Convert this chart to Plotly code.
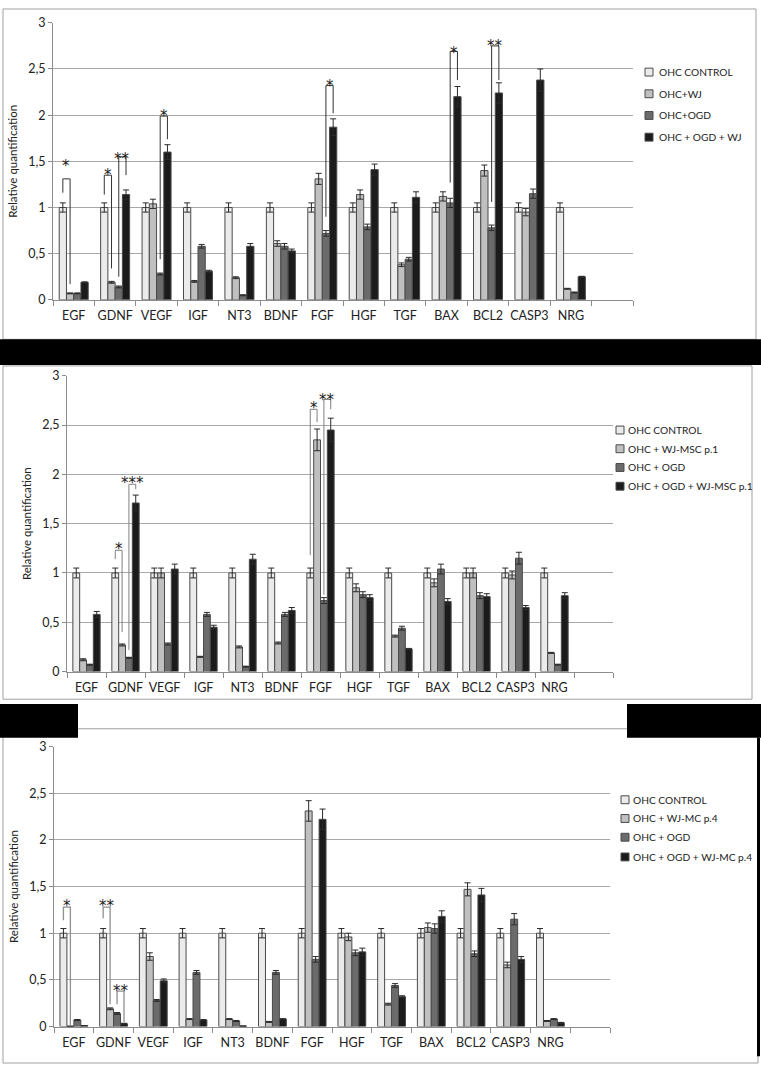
import plotly.graph_objects as go

W, H = 761, 1072

categories = ["EGF", "GDNF", "VEGF", "IGF", "NT3", "BDNF", "FGF", "HGF", "TGF", "BAX", "BCL2", "CASP3", "NRG"]
ytick_vals = [0, 0.5, 1, 1.5, 2, 2.5, 3]
ytick_text = ["0", "0,5", "1", "1,5", "2", "2,5", "3"]

# ---- Panel A ----
a_names = ["OHC CONTROL", "OHC+WJ", "OHC+OGD", "OHC + OGD + WJ"]
a_ctrl = [1.0] * 13
a_wj = [0.07, 0.19, 1.04, 0.20, 0.24, 0.61, 1.31, 1.14, 0.38, 1.12, 1.40, 0.95, 0.12]
a_ogd = [0.07, 0.14, 0.28, 0.58, 0.05, 0.58, 0.72, 0.79, 0.44, 1.05, 0.78, 1.15, 0.08]
a_ogdwj = [0.19, 1.14, 1.60, 0.31, 0.58, 0.53, 1.87, 1.41, 1.11, 2.20, 2.24, 2.38, 0.25]
a_ctrl_err = [0.05] * 13
a_wj_err = [0.005, 0.01, 0.05, 0.01, 0.01, 0.03, 0.06, 0.05, 0.02, 0.05, 0.06, 0.04, 0.005]
a_ogd_err = [0.005, 0.01, 0.01, 0.02, 0.005, 0.03, 0.03, 0.03, 0.02, 0.05, 0.03, 0.05, 0.005]
a_ogdwj_err = [0.005, 0.05, 0.08, 0.01, 0.03, 0.02, 0.09, 0.06, 0.06, 0.11, 0.11, 0.12, 0.005]
# brackets: (category, series a, series b, top, leg a bottom, leg b bottom, label, label y)
a_brackets = [
    (0, 0, 1, 1.31, 1.16, 0.17, "*", 1.49),
    (1, 0, 1, 1.35, 1.14, 0.34, "*", 1.39),
    (1, 2, 3, 1.55, 0.25, 1.35, "**", 1.57),
    (2, 2, 3, 1.99, 0.44, 1.74, "*", 2.03),
    (6, 2, 3, 2.32, 0.90, 2.02, "*", 2.36),
    (9, 2, 3, 2.69, 1.27, 2.38, "*", 2.72),
    (10, 2, 3, 2.75, 1.06, 2.38, "**", 2.79),
]

# ---- Panel B ----
b_names = ["OHC CONTROL", "OHC + WJ-MSC p.1", "OHC + OGD", "OHC + OGD + WJ-MSC p.1"]
b_ctrl = [1.0] * 13
b_wj = [0.12, 0.27, 1.00, 0.15, 0.25, 0.29, 2.35, 0.85, 0.36, 0.90, 1.00, 0.98, 0.19]
b_ogd = [0.07, 0.14, 0.28, 0.58, 0.05, 0.58, 0.72, 0.78, 0.44, 1.04, 0.77, 1.15, 0.07]
b_ogdwj = [0.58, 1.71, 1.04, 0.45, 1.14, 0.62, 2.45, 0.75, 0.23, 0.71, 0.76, 0.65, 0.77]
b_ctrl_err = [0.05] * 13
b_wj_err = [0.01, 0.01, 0.05, 0.005, 0.01, 0.01, 0.11, 0.04, 0.01, 0.04, 0.05, 0.04, 0.005]
b_ogd_err = [0.005, 0.005, 0.01, 0.02, 0.005, 0.02, 0.03, 0.03, 0.02, 0.05, 0.03, 0.06, 0.005]
b_ogdwj_err = [0.03, 0.08, 0.05, 0.02, 0.05, 0.03, 0.12, 0.03, 0.005, 0.03, 0.03, 0.02, 0.03]
b_brackets = [
    (1, 0, 1, 1.23, 1.14, 0.40, "*", 1.28),
    (1, 2, 3, 1.90, 0.22, 1.85, "***", 1.95),
    (6, 0, 1, 2.66, 1.18, 2.53, "*", 2.71),
    (6, 2, 3, 2.76, 0.78, 2.66, "**", 2.80),
]

# ---- Panel C ----
c_names = ["OHC CONTROL", "OHC + WJ-MC p.4", "OHC + OGD", "OHC + OGD + WJ-MC p.4"]
c_ctrl = [1.0] * 13
c_wj = [0.003, 0.19, 0.75, 0.08, 0.08, 0.05, 2.31, 0.96, 0.24, 1.06, 1.47, 0.66, 0.06]
c_ogd = [0.07, 0.14, 0.28, 0.58, 0.06, 0.58, 0.72, 0.79, 0.44, 1.05, 0.78, 1.15, 0.08]
c_ogdwj = [0.01, 0.03, 0.49, 0.07, 0.005, 0.08, 2.22, 0.80, 0.32, 1.18, 1.41, 0.72, 0.04]
c_ctrl_err = [0.05] * 13
c_wj_err = [0.0, 0.01, 0.04, 0.005, 0.005, 0.005, 0.11, 0.04, 0.01, 0.05, 0.07, 0.03, 0.005]
c_ogd_err = [0.005, 0.01, 0.01, 0.02, 0.005, 0.02, 0.03, 0.03, 0.02, 0.05, 0.03, 0.06, 0.005]
c_ogdwj_err = [0.0, 0.005, 0.02, 0.005, 0.0, 0.005, 0.11, 0.04, 0.01, 0.06, 0.07, 0.03, 0.005]
c_brackets = [
    (0, 0, 1, 1.28, 1.14, 0.01, "*", 1.33),
    (1, 0, 1, 1.28, 1.16, 0.24, "**", 1.33),
    (1, 2, 3, 0.38, 0.24, 0.05, "**", 0.42),
]

colors = ["#ebebeb", "#c0c0c0", "#6b6b6b", "#1b1b1b"]
outline = "#4a4a4a"
FONT = "Lato"
BARGAP = 0.3
NSER = 4

def X(px):
    return px / W

def Y(py):
    return 1 - py / H

panels = [
    dict(ax="", names=a_names, vals=[a_ctrl, a_wj, a_ogd, a_ogdwj],
         errs=[a_ctrl_err, a_wj_err, a_ogd_err, a_ogdwj_err], brackets=a_brackets,
         xpx=(53, 633), ypx=(296, 15), leg=(645, 657, [65, 87, 109, 131]), brcol="#333333", brw=1),
    dict(ax="2", names=b_names, vals=[b_ctrl, b_wj, b_ogd, b_ogdwj],
         errs=[b_ctrl_err, b_wj_err, b_ogd_err, b_ogdwj_err], brackets=b_brackets,
         xpx=(67, 613), ypx=(673, 373), leg=(616, 626, [428, 447, 466, 485]), brcol="#808080", brw=1),
    dict(ax="3", names=c_names, vals=[c_ctrl, c_wj, c_ogd, c_ogdwj],
         errs=[c_ctrl_err, c_wj_err, c_ogd_err, c_ogdwj_err], brackets=c_brackets,
         xpx=(54, 610), ypx=(1033, 749), leg=(621, 631, [803, 822, 841, 861]), brcol="#909090", brw=1.3),
]

fig = go.Figure()
shapes = []
annotations = []
xpos = list(range(len(categories)))
bw = (1 - BARGAP) / NSER

for p in panels:
    ax = p["ax"]
    for k in range(NSER):
        fig.add_trace(go.Bar(
            x=xpos, y=p["vals"][k], name=p["names"][k],
            xaxis="x" + ax, yaxis="y" + ax, showlegend=False,
            marker=dict(color=colors[k], line=dict(color=outline, width=1)),
            error_y=dict(type="data", array=p["errs"][k], visible=True,
                         color="#2a2a2a", thickness=1, width=3),
        ))
    # significance brackets
    for (ci, sa, sb, top, ba, bb, lab, ly) in p["brackets"]:
        xa = ci + (sa - (NSER - 1) / 2) * bw
        xb = ci + (sb - (NSER - 1) / 2) * bw
        shapes.append(dict(type="path", xref="x" + ax, yref="y" + ax,
                           path=f"M {xa},{ba} L {xa},{top} L {xb},{top} L {xb},{bb}",
                           line=dict(color=p["brcol"], width=p["brw"])))
        annotations.append(dict(xref="x" + ax, yref="y" + ax, x=(xa + xb) / 2, y=ly,
                                text=lab, showarrow=False, yanchor="middle", yshift=-4,
                                font=dict(family="DejaVu Sans", size=15, color="#1a1a1a")))
    # legend (drawn)
    sx, tx, ys = p["leg"]
    for k in range(NSER):
        yy = ys[k]
        shapes.append(dict(type="rect", xref="paper", yref="paper",
                           x0=X(sx), x1=X(sx + 8), y0=Y(yy + 4), y1=Y(yy - 4),
                           fillcolor=colors[k], line=dict(color=outline, width=1)))
        annotations.append(dict(xref="paper", yref="paper", x=X(tx), y=Y(yy),
                                xanchor="left", yanchor="middle", showarrow=False,
                                text=p["names"][k],
                                font=dict(family=FONT, size=10.2, color="#222222")))

    xd = [X(p["xpx"][0]), X(p["xpx"][1])]
    yd = [Y(p["ypx"][0]), Y(p["ypx"][1])]
    fig.update_layout(**{
        "xaxis" + ax: dict(domain=xd, anchor="y" + ax, range=[-0.5, 13.5],
                           tickmode="array", tickvals=xpos, ticktext=categories,
                           ticks="", showgrid=False, zeroline=False, showline=True,
                           linecolor="#8c8c8c", linewidth=1,
                           tickfont=dict(family=FONT, size=12.5, color="#222222"),
                           ticklabelstandoff=4,
                           minor=dict(tickmode="array",
                                      tickvals=[i - 0.5 for i in range(15)],
                                      ticks="outside", ticklen=5, tickcolor="#8c8c8c",
                                      showgrid=False)),
        "yaxis" + ax: dict(domain=yd, anchor="x" + ax, range=[0, 3],
                           tickmode="array", tickvals=ytick_vals, ticktext=ytick_text,
                           showgrid=True, gridcolor="#a8a8a8", gridwidth=1,
                           zeroline=False, showline=True, linecolor="#8c8c8c",
                           ticks="outside", ticklen=4, tickcolor="#8c8c8c",
                           tickfont=dict(family=FONT, size=12.5, color="#222222"),
                           title=dict(text="Relative quantification", standoff=8,
                                      font=dict(family=FONT, size=11.5, color="#222222"))),
    })

# frames and black blocks
frame_col = "#a0a0a0"
shapes += [
    dict(type="rect", xref="paper", yref="paper", x0=X(3), x1=X(756), y0=Y(336), y1=Y(1),
         line=dict(color=frame_col, width=1), layer="below"),
    dict(type="rect", xref="paper", yref="paper", x0=X(3), x1=X(752), y0=Y(701), y1=Y(363),
         line=dict(color=frame_col, width=1), layer="below"),
    dict(type="rect", xref="paper", yref="paper", x0=X(3), x1=X(758), y0=Y(1070), y1=Y(731),
         line=dict(color=frame_col, width=1), layer="below"),
    dict(type="rect", xref="paper", yref="paper", x0=0, x1=1, y0=Y(362), y1=Y(336),
         fillcolor="black", line=dict(width=0), layer="above"),
    dict(type="rect", xref="paper", yref="paper", x0=0, x1=X(78), y0=Y(740), y1=Y(706),
         fillcolor="black", line=dict(width=0), layer="above"),
    dict(type="rect", xref="paper", yref="paper", x0=X(627), x1=1, y0=Y(740), y1=Y(706),
         fillcolor="black", line=dict(width=0), layer="above"),
    dict(type="rect", xref="paper", yref="paper", x0=X(757), x1=X(760), y0=Y(1063), y1=Y(740),
         fillcolor="black", line=dict(width=0), layer="above"),
]

fig.update_layout(
    width=W, height=H, margin=dict(l=0, r=0, t=0, b=0),
    paper_bgcolor="white", plot_bgcolor="white",
    barmode="group", bargap=BARGAP, bargroupgap=0,
    showlegend=False, shapes=shapes, annotations=annotations,
    font=dict(family=FONT, color="#222222"),
)

fig.write_html(
    "out.html",
    config={"displayModeBar": False},
    post_script="document.body.style.margin='0';document.body.style.padding='0';"
                "document.body.style.overflow='hidden';",
)
